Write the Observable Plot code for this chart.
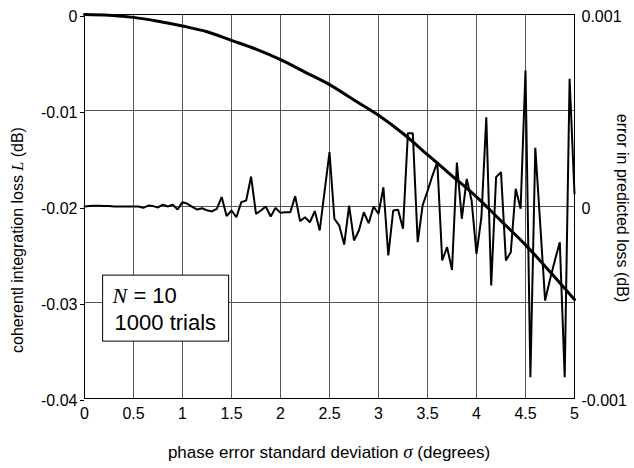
<!DOCTYPE html>
<html><head><meta charset="utf-8">
<script src="https://cdn.jsdelivr.net/npm/d3@7"></script>
<script src="https://cdn.jsdelivr.net/npm/@observablehq/plot@0.6"></script>
<style>
html,body{margin:0;padding:0;background:#fff;}
#chart svg{display:block;}
</style></head><body><div id="chart"></div>
<script>
// phase error standard deviation (degrees) for the error-in-predicted-loss series
const sigma = [0,0.05,0.1,0.15,0.2,0.25,0.3,0.35,0.4,0.45,0.5,0.55,0.6,0.65,0.7,0.75,0.8,0.85,0.9,0.95,
  1,1.05,1.1,1.15,1.2,1.25,1.3,1.35,1.4,1.45,1.5,1.55,1.6,1.65,1.7,1.75,1.8,1.85,1.9,1.95,
  2,2.05,2.1,2.15,2.2,2.25,2.3,2.35,2.4,2.45,2.5,2.55,2.6,2.65,2.7,2.75,2.8,2.85,2.9,2.95,
  3,3.05,3.1,3.15,3.2,3.25,3.3,3.35,3.4,3.45,3.5,3.55,3.6,3.65,3.7,3.75,3.8,3.85,3.9,3.95,
  4,4.05,4.1,4.15,4.2,4.25,4.3,4.35,4.4,4.45,4.5,4.55,4.6,4.65,4.7,4.75,4.8,4.85,4.9,4.95,5];
// error in predicted loss (dB), right axis
const errorDb = [0,0.000002,0.000004,0.000004,0.000003,0.000002,0,0,0,0,0,0,-0.000007,0.000005,0.000002,-0.000005,0.00001,0,0.00001,-0.000016,
  0.000023,0.000014,-0.000002,-0.000016,-0.000009,-0.00002,-0.000026,-0.000012,0.000049,-0.00005,-0.000021,-0.000056,0.000023,0.000031,0.000156,-0.000038,-0.000021,0,-0.000052,-0.000007,
  -0.000033,-0.00003,-0.00003,0.000054,-0.000076,-0.000056,-0.000082,-0.000024,-0.000125,0.00008,0.000283,-0.000064,-0.0001,-0.000198,0.000005,-0.000177,-0.000125,-0.00003,-0.000087,0,
  -0.000038,0.0001,-0.000255,-0.000021,-0.000017,-0.000116,0.000382,0.000382,-0.000186,0.000005,0.00008,0.00016,0.000231,-0.000281,-0.000212,-0.00033,0.000229,-0.000064,0.000144,0.000031,
  -0.000247,-0.000056,0.000465,-0.000411,0.000153,0.000179,-0.000281,-0.000238,0.000092,-0.000012,0.000708,-0.000889,0.000306,-0.00009,-0.00049,-0.00038,-0.00028,-0.000186,-0.000889,0.000665,0.000066];
// coherent integration loss L (dB), left axis
const lossSigma = [0,0.25,0.5,0.75,1,1.25,1.5,1.75,2,2.25,2.5,2.75,3,3.25,3.5,3.75,4,4.25,4.5,4.75,5];
const lossDb = [0,-0.00008,-0.0003,-0.0007,-0.0012,-0.0018,-0.0027,-0.0036,-0.0047,-0.006,-0.0073,-0.0089,-0.0105,-0.0124,-0.0146,-0.0168,-0.019,-0.0215,-0.024,-0.0268,-0.0297];
const xTicks = [0,0.5,1,1.5,2,2.5,3,3.5,4,4.5,5];
const leftTicks = [0,-0.01,-0.02,-0.03,-0.04];
const rightTicks = [0.001,0,-0.001];
const rightLabels = ["0.001","0","-0.001"];

const toLeft = e => -0.02 + e * 20;   // right axis (±0.001) onto left axis (-0.04..0)
const errRows = sigma.map((s, i) => ({s, v: toLeft(errorDb[i])}));
const lossRows = lossSigma.map((s, i) => ({s, v: lossDb[i]}));

const W = 634, H = 468;
const font = "'Liberation Sans', Arial, sans-serif";
const plot = Plot.plot({
  width: W, height: H,
  marginLeft: 84, marginRight: 60, marginTop: 14, marginBottom: 70,
  style: {fontFamily: font, fontSize: "16px", color: "#000", background: "#fff"},
  x: {domain: [0, 5]},
  y: {domain: [-0.04, 0]},
  marks: [
    Plot.gridX(xTicks, {stroke: "#555", strokeOpacity: 1, strokeWidth: 1}),
    Plot.gridY(leftTicks, {stroke: "#555", strokeOpacity: 1, strokeWidth: 1}),
    Plot.frame({stroke: "#000", strokeWidth: 1}),
    Plot.axisX(xTicks, {tickSize: 0, tickPadding: 9, tickFormat: d => String(d), label: null}),
    Plot.axisY(leftTicks, {tickSize: 4, tickPadding: 3, dy: 2, tickFormat: d => String(d), label: null}),
    Plot.text(rightTicks, {x: () => 5, y: d => toLeft(d), text: (d, i) => rightLabels[i], textAnchor: "start", dx: 7, dy: 2, fontSize: 16}),
    Plot.line(errRows, {x: "s", y: "v", stroke: "#000", strokeWidth: 2, strokeLinejoin: "miter"}),
    Plot.line(lossRows, {x: "s", y: "v", stroke: "#000", strokeWidth: 3, curve: "monotone-x"})
  ]
});
document.getElementById("chart").appendChild(plot);

const svg = d3.select(plot);
const xs = plot.scale("x"), ys = plot.scale("y");
const cx = (xs.apply(0) + xs.apply(5)) / 2;

// x axis title
const xt = svg.append("text").attr("x", cx).attr("y", 458).attr("text-anchor", "middle")
  .attr("font-family", font).attr("font-size", 17);
xt.append("tspan").text("phase error standard deviation ");
xt.append("tspan").attr("font-family", "'Liberation Serif', serif").attr("font-style", "italic").attr("font-size", 19).text("σ");
xt.append("tspan").text(" (degrees)");

// left y title
const yl = svg.append("text").attr("transform", "translate(23,240) rotate(-90)").attr("text-anchor", "middle")
  .attr("font-family", font).attr("font-size", 16);
yl.append("tspan").text("coherentl integration loss ");
yl.append("tspan").attr("font-family", "'Liberation Serif', serif").attr("font-style", "italic").text("L");
yl.append("tspan").text(" (dB)");

// right y title
svg.append("text").attr("transform", "translate(617,208) rotate(90)").attr("text-anchor", "middle")
  .attr("font-family", font).attr("font-size", 16).text("error in predicted loss (dB)");

// annotation box
const bx = xs.apply(0.19), by = ys.apply(-0.0272);
const g = svg.append("g").attr("text-anchor", "start");
g.append("rect").attr("x", bx).attr("y", by).attr("width", 126).attr("height", 66)
  .attr("fill", "#fff").attr("stroke", "#000").attr("stroke-width", 1);
const t1 = g.append("text").attr("x", bx + 10).attr("y", by + 28).attr("text-anchor", "start")
  .attr("font-family", font).attr("font-size", 22);
t1.append("tspan").attr("font-family", "'Liberation Serif', serif").attr("font-style", "italic").text("N");
t1.append("tspan").text(" = 10");
g.append("text").attr("x", bx + 12).attr("y", by + 55).attr("text-anchor", "start")
  .attr("font-family", font).attr("font-size", 22).text("1000 trials");
</script>
</body></html>
